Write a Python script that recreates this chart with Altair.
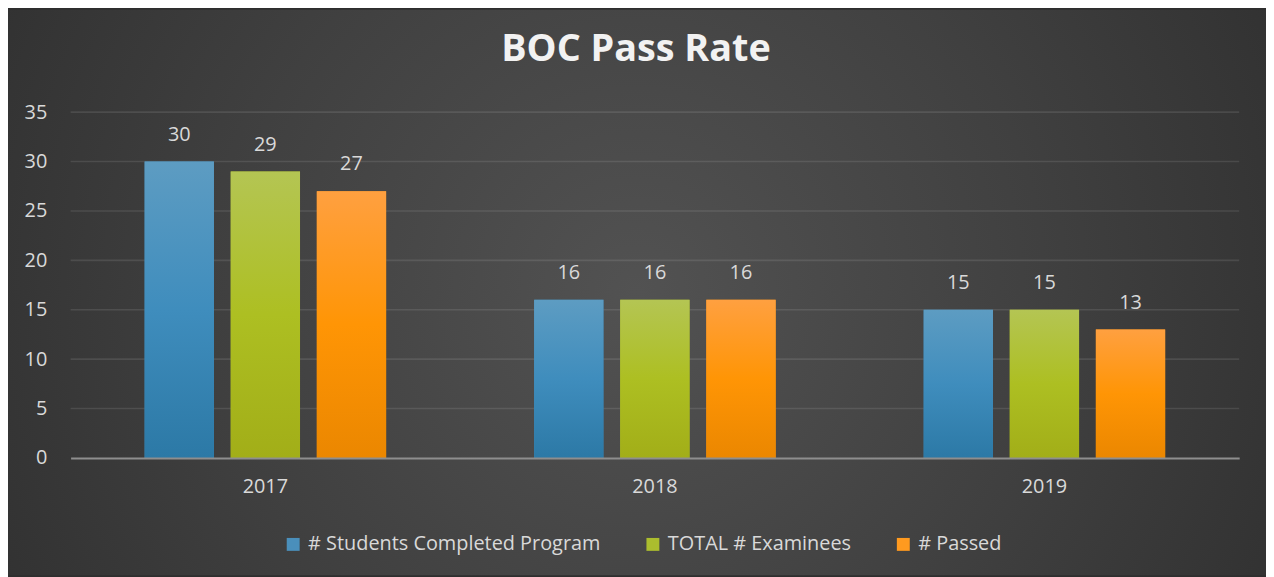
import altair as alt
import pandas as pd

# ---- data ----
years = ["2017", "2018", "2019"]
series = ["# Students Completed Program", "TOTAL # Examinees", "# Passed"]
completed = [30, 16, 15]
examinees = [29, 16, 15]
passed = [27, 16, 13]
y_ticks = [0, 5, 10, 15, 20, 25, 30, 35]

values = {series[0]: completed, series[1]: examinees, series[2]: passed}
rows = []
for s in series:
    for yr, v in zip(years, values[s]):
        rows.append({"Year": yr, "Series": s, "Value": v})
df = pd.DataFrame(rows)
grid_df = pd.DataFrame({"Value": [t for t in y_ticks if t > 0]})
bg_df = pd.DataFrame({"k": [0]})

# ---- styling ----
FONT = "Open Sans"
TXT = "#d9d9d9"
flat_colors = ["#4a8fbb", "#abbd2e", "#ff9a1f"]
grad_stops = [
    [("#5d9cc2", 0), ("#3f8dbd", 0.5), ("#2c79a6", 1)],
    [("#b4c553", 0), ("#adbf22", 0.5), ("#a2ae18", 1)],
    [("#ffa040", 0), ("#ff9505", 0.5), ("#eb8700", 1)],
]

W, H = 1176, 348
PL, PT, PR, PB = 63, 103, 27, 118

ysc = alt.Scale(domain=[0, 35], nice=False, zero=True)
xsc = alt.Scale(domain=years, paddingInner=0.38, paddingOuter=0.19)
osc = alt.Scale(domain=series, paddingInner=0.195, paddingOuter=0)

x_axis = alt.Axis(title=None, labelFont=FONT, labelFontSize=20, labelColor=TXT,
                  labelPadding=19, ticks=False, domain=True, domainColor="#8e8e8e",
                  domainWidth=2, labelAngle=0, zindex=1)
y_axis = alt.Axis(title=None, labelFont=FONT, labelFontSize=20, labelColor=TXT,
                  labelPadding=24, ticks=False, domain=False, grid=False,
                  values=y_ticks, zindex=1)


def X():
    return alt.X("Year:N", scale=xsc, axis=x_axis)


def XO():
    return alt.XOffset("Series:N", scale=osc)


def Y():
    return alt.Y("Value:Q", scale=ysc, axis=y_axis)


bg = alt.Chart(bg_df).mark_rect(
    color=alt.RadialGradient(
        gradient="radial",
        stops=[alt.GradientStop(color="#525252", offset=0),
               alt.GradientStop(color="#404040", offset=0.45),
               alt.GradientStop(color="#282828", offset=1)],
        x1=0.5, y1=0.5, r1=0, x2=0.5, y2=0.5, r2=0.72),
).encode(x=alt.value(-PL), x2=alt.value(W + PR), y=alt.value(-PT), y2=alt.value(H + PB))

grid = alt.Chart(grid_df).mark_rule(color="#ffffff", opacity=0.1, strokeWidth=1.6).encode(
    y=Y()
)

shadow_l = alt.Chart(df).mark_bar(color="#000000", opacity=0.13, xOffset=-3).encode(
    x=X(), xOffset=XO(), y=Y())
shadow_r = alt.Chart(df).mark_bar(color="#000000", opacity=0.13, xOffset=3).encode(
    x=X(), xOffset=XO(), y=Y())

base = alt.Chart(df).mark_bar().encode(
    x=X(), xOffset=XO(), y=Y(),
    color=alt.Color("Series:N", scale=alt.Scale(domain=series, range=flat_colors),
                    legend=alt.Legend(title=None, orient="none", legendX=214, legendY=425,
                                      direction="horizontal", symbolType="square",
                                      symbolSize=169, symbolStrokeWidth=0,
                                      labelFont=FONT, labelFontSize=20, labelColor=TXT,
                                      labelOffset=5, columnPadding=42, labelLimit=500,
                                      symbolOpacity=1)),
)

grad_layers = []
for s, stops in zip(series, grad_stops):
    g = alt.LinearGradient(gradient="linear",
                           stops=[alt.GradientStop(color=c, offset=o) for c, o in stops],
                           x1=0, x2=0, y1=0, y2=1)
    grad_layers.append(
        alt.Chart(df).transform_filter(alt.datum.Series == s).mark_bar(color=g).encode(
            x=X(), xOffset=XO(), y=Y())
    )

labels = alt.Chart(df).mark_text(font=FONT, fontSize=20, color=TXT, dy=-21,
                                 baseline="alphabetic").encode(
    x=X(), xOffset=XO(), y=Y(),
    text=alt.Text("Value:Q"),
)

chart = alt.layer(bg, grid, shadow_l, shadow_r, base, *grad_layers, labels).properties(
    width=W, height=H,
    title=alt.TitleParams("BOC Pass Rate", font=FONT, fontSize=38, fontWeight="bold",
                          color="#f2f2f2", anchor="middle", dx=-19, offset=-90,
                          baseline="alphabetic"),
    padding={"left": PL, "top": PT, "right": PR, "bottom": PB},
    autosize=alt.AutoSizeParams(type="none"),
).configure_view(stroke=None).configure(background="#2e2e2e")

chart.save("out.html", embed_options={"renderer": "svg", "actions": False})
